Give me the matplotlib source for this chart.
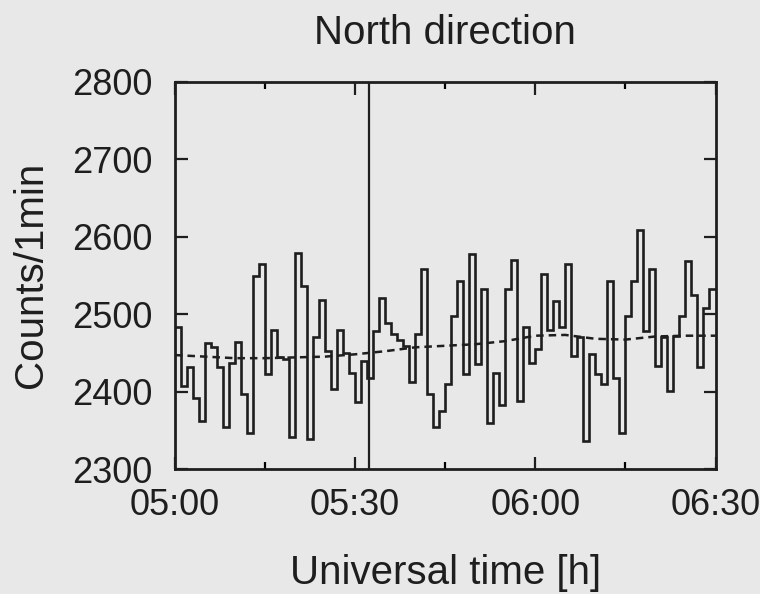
import matplotlib
matplotlib.use("Agg")
import matplotlib.pyplot as plt
import numpy as np

# Minutes after 05:00 (bin edges of 1-min counts)
edges = list(range(0, 91))
counts = [2483, 2407, 2432, 2391, 2362, 2462, 2458, 2431, 2354, 2437,
          2464, 2397, 2347, 2549, 2564, 2422, 2480, 2444, 2442, 2341,
          2579, 2536, 2339, 2470, 2518, 2452, 2403, 2480, 2450, 2424,
          2386, 2440, 2418, 2478, 2521, 2489, 2474, 2467, 2459, 2412,
          2474, 2558, 2397, 2354, 2375, 2410, 2498, 2542, 2422, 2577,
          2435, 2532, 2360, 2424, 2382, 2532, 2570, 2388, 2483, 2437,
          2455, 2551, 2480, 2517, 2483, 2564, 2446, 2470, 2336, 2449,
          2422, 2410, 2543, 2418, 2347, 2498, 2542, 2608, 2478, 2558,
          2433, 2470, 2401, 2472, 2498, 2568, 2525, 2431, 2508, 2532]

# Smoothed background (dashed)
bg_t = [0, 5, 10, 15, 20, 25, 30, 35, 40, 45, 50, 55, 60, 65, 70, 75, 80, 85, 90]
bg_v = [2447, 2445, 2443, 2443, 2444, 2445, 2448, 2452, 2457, 2459, 2461,
        2465, 2472, 2473, 2468, 2467, 2471, 2472, 2472]

event_t = 32.3

xticks = [0, 30, 60, 90]
xticklabels = ["05:00", "05:30", "06:00", "06:30"]
xminor = [15, 45, 75]
yticks = [2300, 2400, 2500, 2600, 2700, 2800]

bg = "#e8e8e8"
ink = "#1e1e1e"
plt.rcParams['font.family'] = ['Liberation Sans', 'DejaVu Sans']

fig = plt.figure(figsize=(7.6, 5.94), dpi=100, facecolor=bg)
ax = fig.add_axes([175/760, 1-469/594, (715.5-175)/760, (469-81.5)/594])
ax.set_facecolor(bg)

ax.stairs(counts, edges, baseline=None, color=ink, lw=1.9)
ax.plot(bg_t, bg_v, color=ink, lw=1.8, ls=(0, (3, 2)))
ax.axvline(event_t, color=ink, lw=1.6)

ax.set_xlim(0, 90)
ax.set_ylim(2300, 2800)
ax.set_xticks(xticks)
ax.set_xticklabels(xticklabels)
ax.set_xticks(xminor, minor=True)
ax.set_yticks(yticks)

ax.tick_params(which='major', direction='in', length=9, width=1.6, top=True, right=True,
               labelsize=26, colors=ink)
ax.tick_params(which='minor', direction='in', length=5, width=1.6, top=True, bottom=True)
ax.tick_params(axis='x', which='major', pad=14)
ax.tick_params(axis='y', which='major', pad=16)
for s in ax.spines.values():
    s.set_linewidth(2.0)
    s.set_color(ink)

ax.set_title("North direction", fontsize=29, color=ink, pad=27)
ax.set_xlabel("Universal time [h]", fontsize=29, color=ink, labelpad=22)
ax.set_ylabel("Counts/1min", fontsize=29, color=ink, labelpad=16)

fig.savefig("out.png", dpi=100, facecolor=bg)
